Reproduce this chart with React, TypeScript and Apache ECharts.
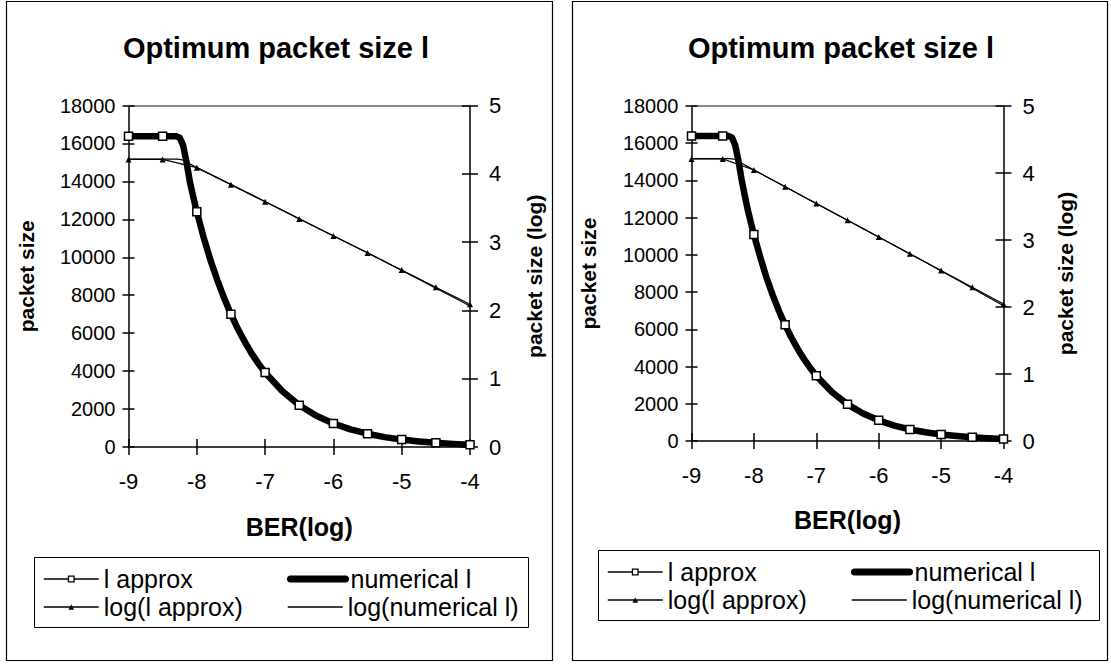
import React, { useEffect, useRef } from "react";
import * as echarts from "echarts";

const FONT = "'Liberation Sans', Arial, Helvetica, sans-serif";

// BER (log10) values of the marker points
const ber = [-9, -8.5, -8, -7.5, -7, -6.5, -6, -5.5, -5, -4.5, -4];
// BER values of the finer numerical curve
const numBer = [-9, -8.5, -8.4, -8.35, -8.3, -8.25, -8.2, -8.15, -8.1, -8.05, -8, -7.9, -7.8, -7.7, -7.6, -7.5, -7.4, -7.3, -7.2, -7.1, -7, -6.75, -6.5, -6.25, -6, -5.75, -5.5, -5.25, -5, -4.75, -4.5, -4.25, -4];

// Left chart
const leftApprox = [16384, 16384, 12400, 7000, 3930, 2200, 1240, 700, 390, 220, 124];
const leftLogApprox = [4.21, 4.21, 4.09, 3.84, 3.59, 3.34, 3.09, 2.84, 2.59, 2.34, 2.09];
const leftNumerical = [16384, 16384, 16384, 16384, 16380, 16300, 15900, 15000, 13950, 13150, 12400, 11050, 9850, 8800, 7850, 7000, 6230, 5560, 4950, 4410, 3930, 2950, 2200, 1650, 1240, 930, 700, 520, 390, 295, 220, 165, 124];
const leftLogNumerical = [4.214, 4.214, 4.214, 4.214, 4.214, 4.212, 4.201, 4.176, 4.145, 4.119, 4.093, 4.043, 3.993, 3.944, 3.895, 3.845, 3.794, 3.745, 3.695, 3.644, 3.594, 3.47, 3.342, 3.217, 3.093, 2.968, 2.845, 2.716, 2.585, 2.455, 2.325, 2.195, 2.065];

// Right chart
const rightApprox = [16384, 16384, 11100, 6240, 3510, 1970, 1110, 620, 350, 197, 111];
const rightLogApprox = [4.21, 4.21, 4.045, 3.795, 3.545, 3.295, 3.045, 2.795, 2.545, 2.295, 2.045];
const rightNumerical = [16384, 16384, 16384, 16300, 15900, 15100, 14100, 13250, 12450, 11750, 11100, 9900, 8800, 7850, 7000, 6240, 5560, 4960, 4420, 3940, 3510, 2630, 1970, 1480, 1110, 830, 620, 470, 350, 265, 197, 148, 111];
const rightLogNumerical = [4.214, 4.214, 4.214, 4.212, 4.201, 4.179, 4.149, 4.122, 4.095, 4.07, 4.045, 3.996, 3.944, 3.895, 3.845, 3.795, 3.745, 3.695, 3.645, 3.595, 3.545, 3.42, 3.294, 3.17, 3.045, 2.919, 2.792, 2.667, 2.538, 2.41, 2.28, 2.15, 2.02];

const titleText = "Optimum packet size l";
const xName = "BER(log)";
const yNameLeft = "packet size";
const yNameRight = "packet size (log)";
const seriesNames = ["l approx", "numerical l", "log(l approx)", "log(numerical l)"];

type Cfg = {
  grid: { left: number; top: number; width: number; height: number };
  approx: number[];
  logApprox: number[];
  numerical: number[];
  logNumerical: number[];
  title: { x: number; y: number };
  panel: [number, number, number, number];
  legendBox: [number, number, number, number];
  legendCols: [number, number];
  legendRows: [number, number];
  yNameGapL: number;
  yNameGapR: number;
  xNameGap: number;
  xLabelMargin: number;
};

const charts: Cfg[] = [
  {
    grid: { left: 128.5, top: 105.5, width: 341.5, height: 341.5 },
    approx: leftApprox,
    logApprox: leftLogApprox,
    numerical: leftNumerical,
    logNumerical: leftLogNumerical,
    title: { x: 276, y: 48 },
    panel: [6.5, 1.5, 546, 659],
    legendBox: [34.5, 557.5, 494, 70],
    legendCols: [43, 287],
    legendRows: [579, 607],
    yNameGapL: 92,
    yNameGapR: 54,
    xNameGap: 67,
    xLabelMargin: 23,
  },
  {
    grid: { left: 691.5, top: 106, width: 312, height: 335 },
    approx: rightApprox,
    logApprox: rightLogApprox,
    numerical: rightNumerical,
    logNumerical: rightLogNumerical,
    title: { x: 841, y: 48 },
    panel: [572.5, 1.5, 535, 659],
    legendBox: [598.5, 550.5, 501, 70],
    legendCols: [607, 851],
    legendRows: [572, 600],
    yNameGapL: 93,
    yNameGapR: 51,
    xNameGap: 66,
    xLabelMargin: 23,
  },
];

const black = "#000";
const clear = "rgba(0,0,0,0)";

function buildOption() {
  const grid: any[] = [];
  const xAxis: any[] = [];
  const yAxis: any[] = [];
  const series: any[] = [];
  const legend: any[] = [];
  const title: any[] = [];
  const graphic: any[] = [];

  charts.forEach((c, g) => {
    grid.push({ ...c.grid, containLabel: false });

    title.push({
      text: titleText,
      left: c.title.x,
      top: c.title.y - 17,
      textAlign: "center",
      padding: 0,
      textStyle: { fontFamily: FONT, fontSize: 29, fontWeight: "bold", color: black, lineHeight: 34 },
    });

    const xBase = { type: "value", gridIndex: g, min: -9, max: -4, interval: 1, splitLine: { show: false } };
    xAxis.push({
      ...xBase,
      position: "bottom",
      axisLine: { show: true, onZero: false, lineStyle: { color: black, width: 1.5 } },
      axisTick: { show: true, inside: false, length: 8, lineStyle: { color: black, width: 1.5 } },
      axisLabel: { fontSize: 22, color: black, fontFamily: FONT, margin: c.xLabelMargin, formatter: (v: number) => String(v) },
      name: xName,
      nameLocation: "middle",
      nameGap: c.xNameGap,
      nameTextStyle: { fontFamily: FONT, fontSize: 25, fontWeight: "bold", color: black },
    });
    xAxis.push({
      ...xBase,
      position: "bottom",
      axisLine: { show: false, onZero: false },
      axisTick: { show: true, inside: true, length: 8, lineStyle: { color: black, width: 1.5 } },
      axisLabel: { show: false },
    });
    xAxis.push({
      ...xBase,
      position: "top",
      axisLine: { show: true, onZero: false, lineStyle: { color: "#888", width: 2 } },
      axisTick: { show: false },
      axisLabel: { show: false },
    });

    const yL = { type: "value", gridIndex: g, min: 0, max: 18000, interval: 2000, splitLine: { show: false } };
    yAxis.push({
      ...yL,
      position: "left",
      axisLine: { show: true, onZero: false, lineStyle: { color: black, width: 1.5 } },
      axisTick: { show: true, inside: false, length: 6, lineStyle: { color: black, width: 1.5 } },
      axisLabel: { fontSize: 20, color: black, fontFamily: FONT, margin: 13, formatter: (v: number) => String(v) },
      name: yNameLeft,
      nameLocation: "middle",
      nameRotate: 90,
      nameGap: c.yNameGapL,
      nameTextStyle: { fontFamily: FONT, fontSize: 21, fontWeight: "bold", color: black },
    });
    yAxis.push({
      ...yL,
      position: "left",
      axisLine: { show: false, onZero: false },
      axisTick: { show: true, inside: true, length: 6, lineStyle: { color: black, width: 1.5 } },
      axisLabel: { show: false },
    });
    const yR = { type: "value", gridIndex: g, min: 0, max: 5, interval: 1, splitLine: { show: false } };
    yAxis.push({
      ...yR,
      position: "right",
      axisLine: { show: true, onZero: false, lineStyle: { color: black, width: 1.5 } },
      axisTick: { show: true, inside: false, length: 8, lineStyle: { color: black, width: 1.5 } },
      axisLabel: { fontSize: 22, color: black, fontFamily: FONT, margin: 19, formatter: (v: number) => String(v) },
      name: yNameRight,
      nameLocation: "middle",
      nameRotate: 90,
      nameGap: c.yNameGapR,
      nameTextStyle: { fontFamily: FONT, fontSize: 21, fontWeight: "bold", color: black },
    });
    yAxis.push({
      ...yR,
      position: "right",
      axisLine: { show: false, onZero: false },
      axisTick: { show: true, inside: true, length: 8, lineStyle: { color: black, width: 1.5 } },
      axisLabel: { show: false },
    });

    const xi = g * 3;
    const yi = g * 4;

    series.push({
      name: seriesNames[1],
      type: "line",
      xAxisIndex: xi,
      yAxisIndex: yi,
      data: numBer.map((x, i) => [x, c.numerical[i]]),
      showSymbol: false,
      symbol: "none",
      smooth: false,
      lineStyle: { color: black, width: 6.5, cap: "round", join: "round" },
      itemStyle: { color: black },
      z: 3,
    });
    series.push({
      name: seriesNames[0],
      type: "line",
      xAxisIndex: xi,
      yAxisIndex: yi,
      data: ber.map((x, i) => [x, c.approx[i]]),
      symbol: "rect",
      symbolSize: 8,
      lineStyle: { color: black, width: 0 },
      itemStyle: { color: "#fff", borderColor: black, borderWidth: 1.5 },
      z: 5,
    });
    series.push({
      name: seriesNames[3],
      type: "line",
      xAxisIndex: xi,
      yAxisIndex: yi + 2,
      data: numBer.map((x, i) => [x, c.logNumerical[i]]),
      showSymbol: false,
      symbol: "none",
      smooth: false,
      lineStyle: { color: black, width: 1.2, join: "round" },
      itemStyle: { color: black },
      z: 4,
    });
    series.push({
      name: seriesNames[2],
      type: "line",
      xAxisIndex: xi,
      yAxisIndex: yi + 2,
      data: ber.map((x, i) => [x, c.logApprox[i]]),
      symbol: "triangle",
      symbolSize: 6,
      lineStyle: { color: black, width: 1.2 },
      itemStyle: { color: black },
      z: 4,
    });

    const legendPos: [number, number][] = [
      [c.legendCols[0], c.legendRows[0]],
      [c.legendCols[1], c.legendRows[0]],
      [c.legendCols[0], c.legendRows[1]],
      [c.legendCols[1], c.legendRows[1]],
    ];
    seriesNames.forEach((n, k) => {
      let itemStyle: any = undefined;
      if (n === "numerical l" || n === "log(numerical l)") {
        itemStyle = { color: clear, borderColor: clear, borderWidth: 0 };
      } else if (n === "l approx") {
        itemStyle = { color: "#fff", borderColor: black, borderWidth: 1.3 };
      }
      legend.push({
        data: [n],
        left: legendPos[k][0],
        top: legendPos[k][1] - 14,
        padding: 0,
        itemWidth: 55,
        itemHeight: 7,
        selectedMode: false,
        textStyle: { fontFamily: FONT, fontSize: 25, color: black, lineHeight: 28 },
        lineStyle: n === "numerical l" ? { width: 7, cap: "round" } : { width: 1.5 },
        itemStyle,
      });
    });

    graphic.push({
      type: "rect",
      z: -100,
      shape: { x: c.panel[0], y: c.panel[1], width: c.panel[2], height: c.panel[3] },
      style: { fill: "#fff", stroke: black, lineWidth: 1.2 },
    });
    graphic.push({
      type: "rect",
      z: -90,
      shape: { x: c.legendBox[0], y: c.legendBox[1], width: c.legendBox[2], height: c.legendBox[3] },
      style: { fill: "none", stroke: black, lineWidth: 1 },
    });
  });

  return {
    animation: false,
    backgroundColor: "#fff",
    textStyle: { fontFamily: FONT },
    title,
    grid,
    xAxis,
    yAxis,
    series,
    legend,
    graphic,
  };
}

export default function App() {
  const ref = useRef<HTMLDivElement>(null);
  useEffect(() => {
    if (!ref.current) return;
    const chart = echarts.init(ref.current, undefined, { renderer: "svg" });
    chart.setOption(buildOption() as any);
    return () => chart.dispose();
  }, []);
  return (
    <div
      ref={ref}
      style={{ position: "fixed", left: 0, top: 0, width: 1111, height: 669, background: "#fff" }}
    />
  );
}
